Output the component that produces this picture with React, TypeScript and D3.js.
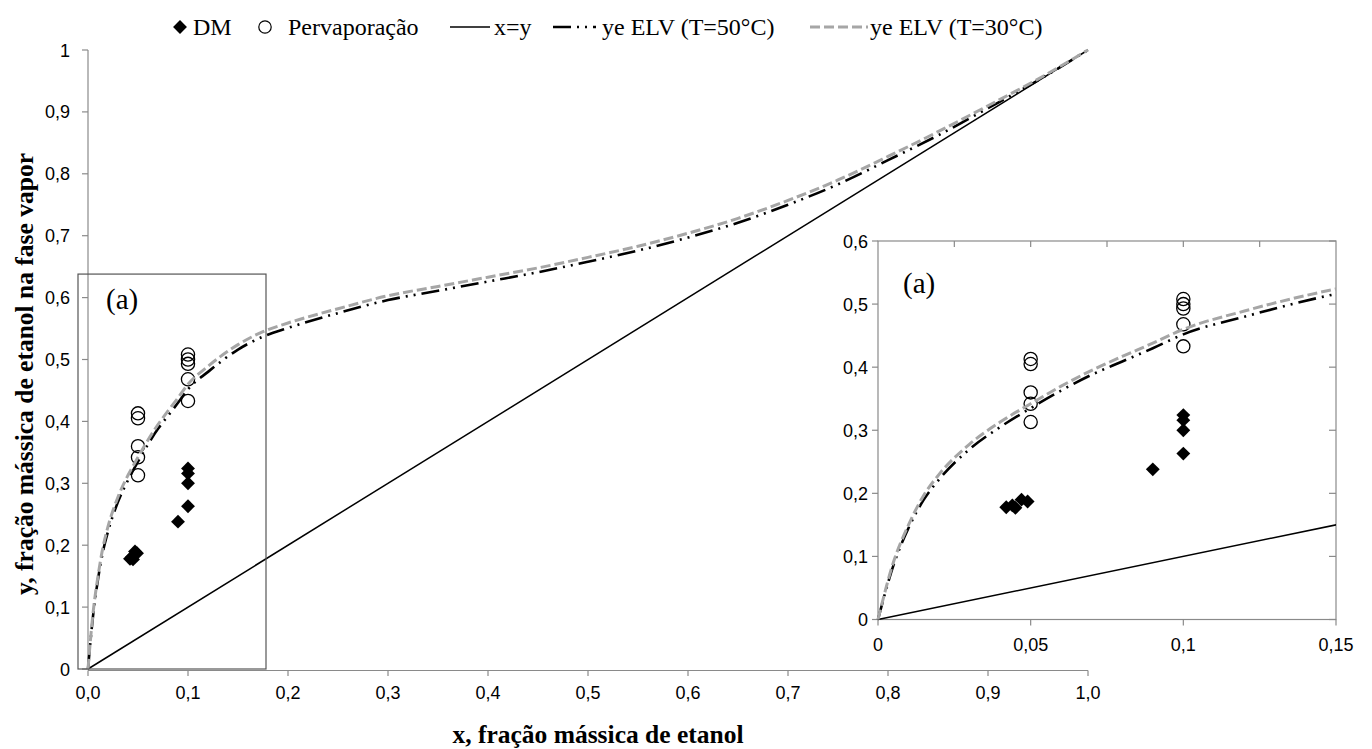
import React from 'react';
import * as d3 from 'd3';

const W = 1372;
const H = 749;

// Equilibrium curves (ye ELV) sampled along x
const elvX = [0, 0.005, 0.01, 0.015, 0.02, 0.03, 0.04, 0.05, 0.06, 0.07, 0.08, 0.09, 0.1, 0.12, 0.15, 0.175, 0.2, 0.25, 0.3, 0.35, 0.4, 0.45, 0.5, 0.55, 0.6, 0.65, 0.7, 0.75, 0.8, 0.85, 0.9, 0.95, 1];
const elv30 = [0, 0.09, 0.15, 0.197, 0.23, 0.278, 0.313, 0.342, 0.37, 0.395, 0.417, 0.438, 0.46, 0.489, 0.524, 0.545, 0.559, 0.582, 0.603, 0.618, 0.633, 0.648, 0.665, 0.683, 0.704, 0.728, 0.757, 0.79, 0.828, 0.868, 0.91, 0.953, 1];
const elv50 = [0, 0.085, 0.145, 0.19, 0.222, 0.27, 0.305, 0.335, 0.363, 0.388, 0.409, 0.43, 0.452, 0.48, 0.516, 0.537, 0.551, 0.575, 0.596, 0.611, 0.626, 0.641, 0.658, 0.676, 0.697, 0.721, 0.75, 0.783, 0.822, 0.862, 0.906, 0.951, 1];

// Destilação molecular (DM)
const dmX = [0.042, 0.044, 0.045, 0.047, 0.049, 0.09, 0.1, 0.1, 0.1, 0.1];
const dmY = [0.178, 0.181, 0.177, 0.19, 0.187, 0.238, 0.324, 0.316, 0.3, 0.263];

// Pervaporação
const pvX = [0.05, 0.05, 0.05, 0.05, 0.05, 0.1, 0.1, 0.1, 0.1, 0.1];
const pvY = [0.413, 0.405, 0.36, 0.342, 0.313, 0.508, 0.5, 0.493, 0.468, 0.433];

// x = y reference line
const diagX = [0, 1];

// Axis ticks
const mainXTicks = [0, 0.1, 0.2, 0.3, 0.4, 0.5, 0.6, 0.7, 0.8, 0.9, 1];
const mainXLabels = ['0,0', '0,1', '0,2', '0,3', '0,4', '0,5', '0,6', '0,7', '0,8', '0,9', '1,0'];
const mainYTicks = [0, 0.1, 0.2, 0.3, 0.4, 0.5, 0.6, 0.7, 0.8, 0.9, 1];
const mainYLabels = ['0', '0,1', '0,2', '0,3', '0,4', '0,5', '0,6', '0,7', '0,8', '0,9', '1'];
const insetXTicks = [0, 0.05, 0.1, 0.15];
const insetXLabels = ['0', '0,05', '0,1', '0,15'];
const insetTopTicks = [0.025, 0.05, 0.075, 0.1, 0.125];
const insetYTicks = [0, 0.1, 0.2, 0.3, 0.4, 0.5, 0.6];
const insetYLabels = ['0', '0,1', '0,2', '0,3', '0,4', '0,5', '0,6'];

// Highlighted region (a) in data units
const zoomX = [-0.01, 0.178];
const zoomY = [0, 0.638];

const SANS = '"Liberation Sans", Arial, sans-serif';
const SERIF = '"Liberation Serif", "Times New Roman", serif';
const AXIS = '#8a8a8a';
const GRAY = '#a6a6a6';
const DASH_50 = '18 6 2 6 2 6';
const DASH_30 = '10 4';
const DIAMOND_AREA = 96;

type Scale = d3.ScaleLinear<number, number>;

function Series({ x, y, id }: { x: Scale; y: Scale; id?: string }) {
  const curve = (ys: number[]) =>
    d3
      .line<number>()
      .curve(d3.curveMonotoneX)
      .x((d) => x(d))
      .y((_, i) => y(ys[i]))(elvX) as string;
  const diag = d3.line<number>().x((d) => x(d)).y((d) => y(d))(diagX) as string;
  const diamond = d3.symbol(d3.symbolSquare, DIAMOND_AREA)() as string;
  return (
    <g clipPath={id ? `url(#${id})` : undefined}>
      {pvX.map((d, i) => (
        <circle key={'p' + i} cx={x(d)} cy={y(pvY[i])} r={6.6} fill="none" stroke="#000" strokeWidth={1.3} />
      ))}
      {dmX.map((d, i) => (
        <path key={'d' + i} d={diamond} transform={`translate(${x(d)},${y(dmY[i])}) rotate(45)`} fill="#000" />
      ))}
      <path d={diag} fill="none" stroke="#000" strokeWidth={1.5} />
      <path d={curve(elv50)} fill="none" stroke="#000" strokeWidth={2.6} strokeDasharray={DASH_50} />
      <path d={curve(elv30)} fill="none" stroke={GRAY} strokeWidth={3} strokeDasharray={DASH_30} />
    </g>
  );
}

export default function App() {
  const xM = d3.scaleLinear().domain([0, 1]).range([88, 1088]);
  const yM = d3.scaleLinear().domain([0, 1]).range([669, 50]);
  const xI = d3.scaleLinear().domain([0, 0.15]).range([878, 1336]);
  const yI = d3.scaleLinear().domain([0, 0.6]).range([619.5, 241]);

  const diamond = d3.symbol(d3.symbolSquare, DIAMOND_AREA)() as string;

  const legendY = 27;
  return (
    <svg width={W} height={H} style={{ position: 'absolute', left: 0, top: 0, background: '#fff' }}>
      <defs>
        <clipPath id="insetClip">
          <rect x={xI(0) - 8} y={yI(0.6)} width={xI(0.15) - xI(0) + 8} height={yI(0) - yI(0.6) + 8} />
        </clipPath>
      </defs>
      <rect x={0} y={0} width={W} height={H} fill="#fff" />

      {/* Legend */}
      <g fontFamily={SERIF} fontSize={24} fill="#000">
        <path d={diamond} transform={`translate(180,${legendY}) rotate(45)`} fill="#000" />
        <text x={193} y={legendY + 8}>DM</text>
        <circle cx={265} cy={legendY} r={6.2} fill="none" stroke="#000" strokeWidth={1.2} />
        <text x={288} y={legendY + 8}>Pervaporação</text>
        <line x1={450} x2={490} y1={legendY} y2={legendY} stroke="#000" strokeWidth={1.5} />
        <text x={494} y={legendY + 8}>x=y</text>
        <line x1={553} x2={596} y1={legendY} y2={legendY} stroke="#000" strokeWidth={2.6} strokeDasharray={DASH_50} />
        <text x={602} y={legendY + 8}>ye ELV (T=50°C)</text>
        <line x1={810} x2={868} y1={legendY} y2={legendY} stroke={GRAY} strokeWidth={3} strokeDasharray={DASH_30} />
        <text x={870} y={legendY + 8}>ye ELV (T=30°C)</text>
      </g>

      {/* Main axes */}
      <g fontFamily={SANS} fontSize={18} fill="#000">
        <line x1={xM(0)} x2={xM(0)} y1={yM(0)} y2={yM(1)} stroke={AXIS} strokeWidth={1.2} />
        <line x1={xM(0)} x2={xM(1)} y1={yM(0) + 1.5} y2={yM(0) + 1.5} stroke={AXIS} strokeWidth={1.2} />
        {mainYTicks.map((t, i) => (
          <g key={'my' + i}>
            <line x1={xM(0) - 6} x2={xM(0)} y1={yM(t)} y2={yM(t)} stroke={AXIS} strokeWidth={1.2} />
            <text x={xM(0) - 18} y={yM(t) + 6.5} textAnchor="end">{mainYLabels[i]}</text>
          </g>
        ))}
        {mainXTicks.map((t, i) => (
          <g key={'mx' + i}>
            <line x1={xM(t)} x2={xM(t)} y1={yM(0) + 1.5} y2={yM(0) + 7} stroke={AXIS} strokeWidth={1.2} />
            <text x={xM(t)} y={yM(0) + 30} textAnchor="middle">{mainXLabels[i]}</text>
          </g>
        ))}
      </g>

      <Series x={xM} y={yM} />

      {/* Region (a) frame */}
      <rect
        x={xM(zoomX[0])}
        y={yM(zoomY[1])}
        width={xM(zoomX[1]) - xM(zoomX[0])}
        height={yM(zoomY[0]) - yM(zoomY[1])}
        fill="none"
        stroke="#555"
        strokeWidth={1.2}
      />
      <text x={106} y={309} fontFamily={SERIF} fontSize={29}>(a)</text>

      {/* Inset */}
      <rect x={xI(0)} y={yI(0.6)} width={xI(0.15) - xI(0)} height={yI(0) - yI(0.6)} fill="#fff" stroke={AXIS} strokeWidth={1.2} />
      <g fontFamily={SANS} fontSize={18} fill="#000">
        {insetYTicks.map((t, i) => (
          <g key={'iy' + i}>
            <line x1={xI(0) - 6} x2={xI(0)} y1={yI(t)} y2={yI(t)} stroke={AXIS} strokeWidth={1.2} />
            <line x1={xI(0.15) - 7} x2={xI(0.15)} y1={yI(t)} y2={yI(t)} stroke={AXIS} strokeWidth={1.2} />
            <text x={xI(0) - 10} y={yI(t) + 6.5} textAnchor="end">{insetYLabels[i]}</text>
          </g>
        ))}
        {insetXTicks.map((t, i) => (
          <g key={'ix' + i}>
            <line x1={xI(t)} x2={xI(t)} y1={yI(0)} y2={yI(0) + 6} stroke={AXIS} strokeWidth={1.2} />
            <text x={xI(t)} y={yI(0) + 31} textAnchor="middle">{insetXLabels[i]}</text>
          </g>
        ))}
        {insetTopTicks.map((t, i) => (
          <line key={'it' + i} x1={xI(t)} x2={xI(t)} y1={yI(0.6)} y2={yI(0.6) + 6} stroke={AXIS} strokeWidth={1.2} />
        ))}
      </g>
      <Series x={xI} y={yI} id="insetClip" />
      <text x={903} y={293} fontFamily={SERIF} fontSize={29}>(a)</text>

      {/* Axis titles */}
      <text
        transform={`translate(33,${374}) rotate(-90)`}
        textAnchor="middle"
        fontFamily={SERIF}
        fontWeight="bold"
        fontSize={25.5}
      >
        y, fração mássica de etanol na fase vapor
      </text>
      <text x={598} y={743} textAnchor="middle" fontFamily={SERIF} fontWeight="bold" fontSize={25.5}>
        x, fração mássica de etanol
      </text>
    </svg>
  );
}
